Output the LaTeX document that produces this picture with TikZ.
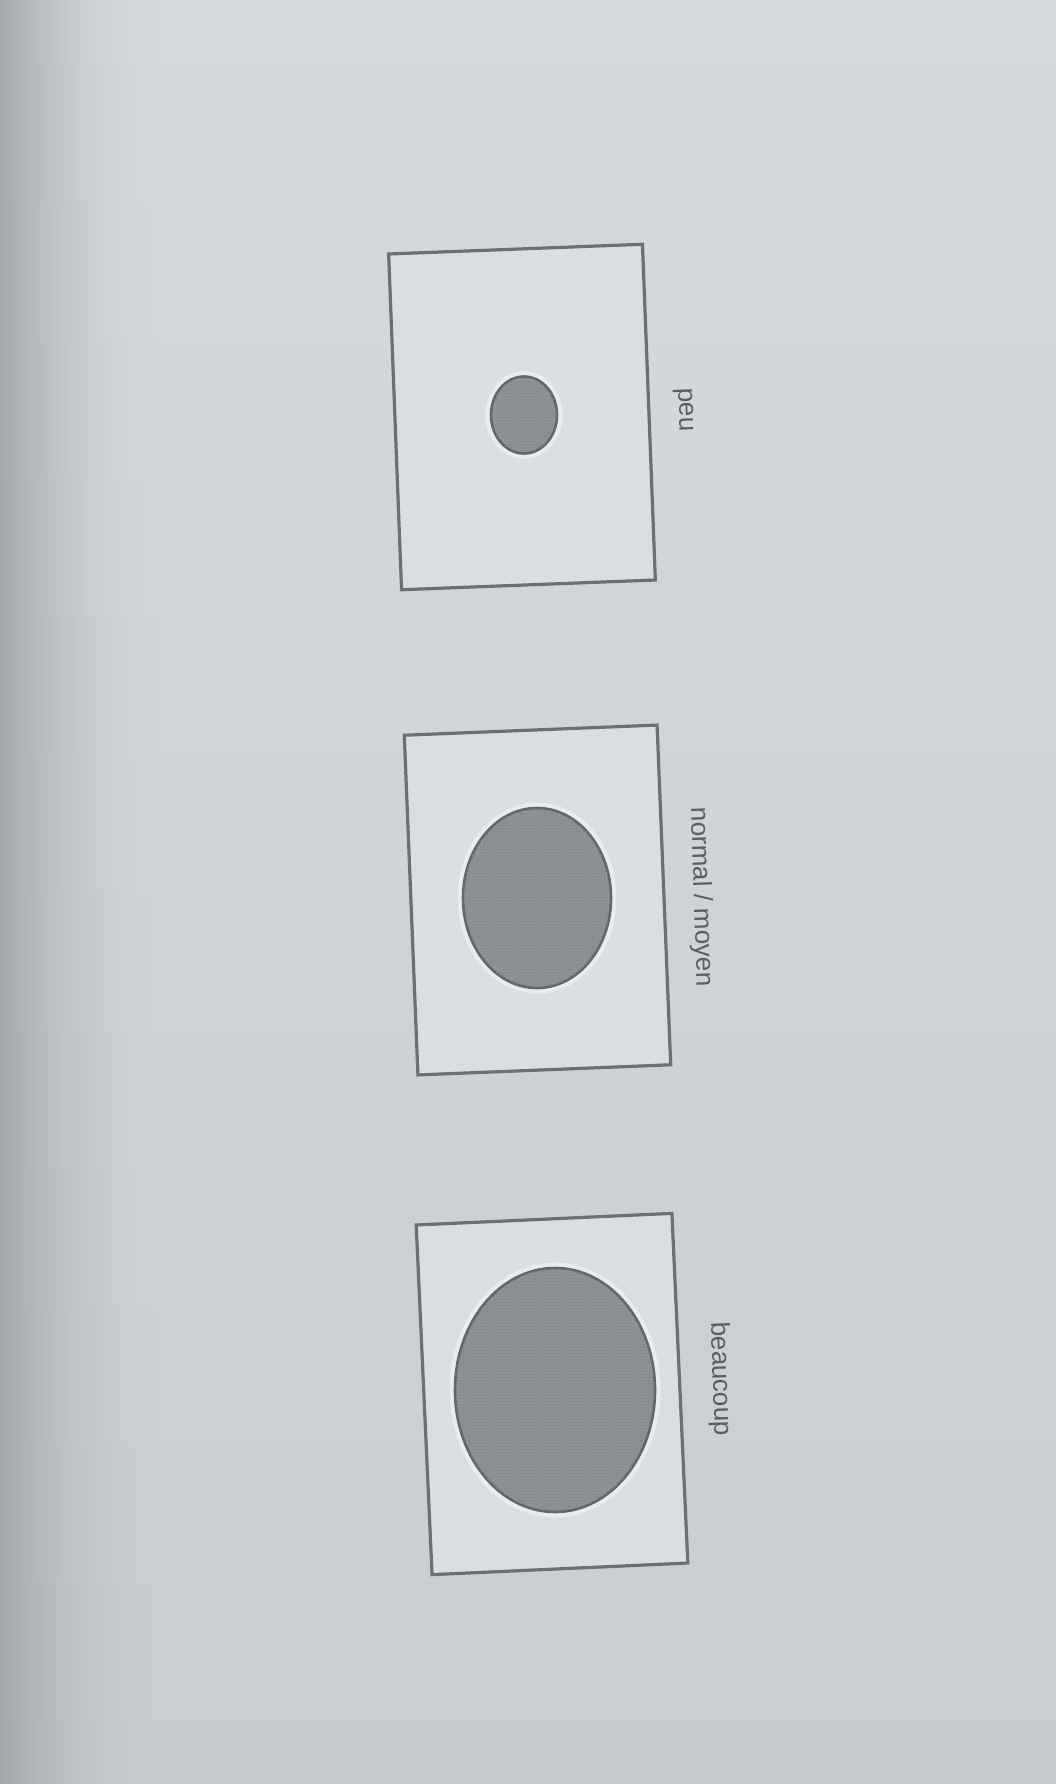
\documentclass[tikz,border=0pt]{standalone}
\usepackage{fontspec}
\setmainfont{Liberation Sans}
\usetikzlibrary{shapes.geometric,patterns}
\definecolor{bg}{HTML}{D5DADD}
\definecolor{bgbottom}{HTML}{C9CDD0}
\definecolor{bgdark}{HTML}{9DA2A6}
\definecolor{boxline}{HTML}{6C7074}
\definecolor{boxfill}{HTML}{DADEE1}
\definecolor{blob}{HTML}{8F9397}
\definecolor{blobline}{HTML}{62666A}
\definecolor{halo}{HTML}{E9ECED}
\definecolor{txt}{HTML}{5A5E62}
\tikzset{
  card/.style={draw=boxline, line width=3.2pt, fill=boxfill, rectangle, inner sep=0pt},
  spot/.style={ellipse, draw=blobline, line width=2.6pt, fill=blob, inner sep=0pt,
     preaction={draw=halo, line width=11pt},
     postaction={pattern=crosshatch dots, pattern color=blob!85!black}},
  caption/.style={text=txt, font=\fontsize{26}{30}\selectfont, inner sep=0pt}
}
\begin{document}
\begin{tikzpicture}[x=1pt,y=-1pt]
\useasboundingbox (0,0) rectangle (1055,1784);
\fill[bg!97!black] (-5,-5) rectangle (1060,1789);
\shade[top color=bg, bottom color=bgbottom] (-5,-5) rectangle (1060,1789);
\foreach \i in {0,...,39}
  \fill[bgdark, opacity={0.85*(1-\i/40)^2}] (\i*4,-5) rectangle (\i*4+4,1789);

% box 1 : peu
\node[card, minimum width=254pt, minimum height=336pt, rotate=2.2] (b1) at (522,417) {};
\node[spot, minimum width=66pt, minimum height=77pt] (e1) at (524,415) {};
\node[caption, rotate=-88] (l1) at (684,410) {peu};

% box 2 : normal / moyen
\node[card, minimum width=253pt, minimum height=340pt, rotate=2.3] (b2) at (537.5,900) {};
\node[spot, minimum width=148pt, minimum height=180pt] (e2) at (537,898) {};
\node[caption, rotate=-88] (l2) at (701,897) {normal / moyen};

% box 3 : beaucoup
\node[card, minimum width=256pt, minimum height=350pt, rotate=2.6] (b3) at (552,1394) {};
\node[spot, minimum width=200pt, minimum height=244pt] (e3) at (555,1390) {};
\node[caption, rotate=-88] (l3) at (720,1379) {beaucoup};
\end{tikzpicture}
\end{document}
